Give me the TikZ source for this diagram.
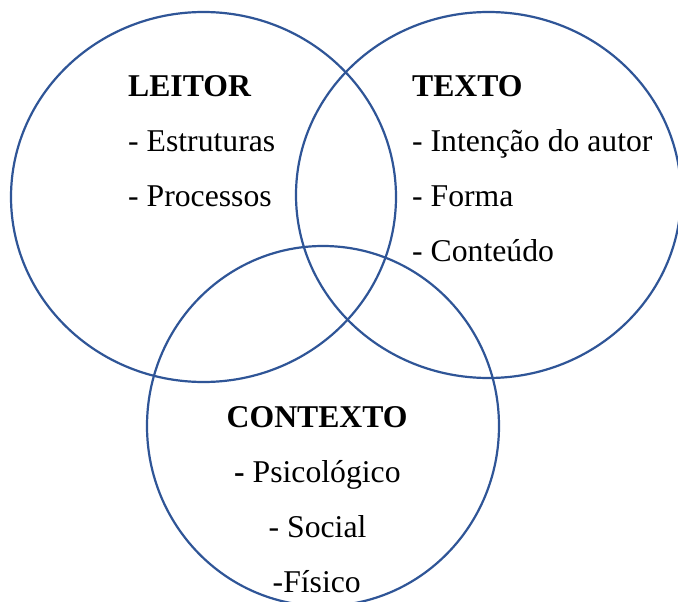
\documentclass[tikz,border=0pt]{standalone}
\usepackage{fontspec}
\setmainfont{Liberation Serif}
\definecolor{ringblue}{HTML}{2F5597}
\begin{document}
\begin{tikzpicture}[x=1pt,y=-1pt,
  ring/.style={draw=ringblue,line width=2.2pt},
  lbl/.style={anchor=base west,inner sep=0pt,font=\fontsize{31.7}{38}\selectfont}]
\useasboundingbox (0,0) rectangle (678,602);
\clip (0,0) rectangle (678,602);
\fill[white] (0,0) rectangle (678,602);
\draw[ring] (203.5,197) ellipse [x radius=192.5, y radius=185];
\draw[ring] (488.5,195) ellipse [x radius=192.5, y radius=183];
\draw[ring] (323,426) ellipse [x radius=176, y radius=180];
% LEITOR
\node[lbl] (l0) at (128,96) {\textbf{LEITOR}};
\node[lbl] (l1) at (128,151) {- Estruturas};
\node[lbl] (l2) at (128,206) {- Processos};
% TEXTO
\node[lbl] (t0) at (412,96) {\textbf{TEXTO}};
\node[lbl] (t1) at (412,151) {- Intenção do autor};
\node[lbl] (t2) at (412,206) {- Forma};
\node[lbl] (t3) at (412,261) {- Conteúdo};
% CONTEXTO
\node[lbl] (c0) at (226.5,427) {\textbf{CONTEXTO}};
\node[lbl] (c1) at (234,482) {\textbf{-} Psicológico};
\node[lbl] (c2) at (268.5,537) {- Social};
\node[lbl] (c3) at (272.5,592) {-Físico};
\end{tikzpicture}
\end{document}
